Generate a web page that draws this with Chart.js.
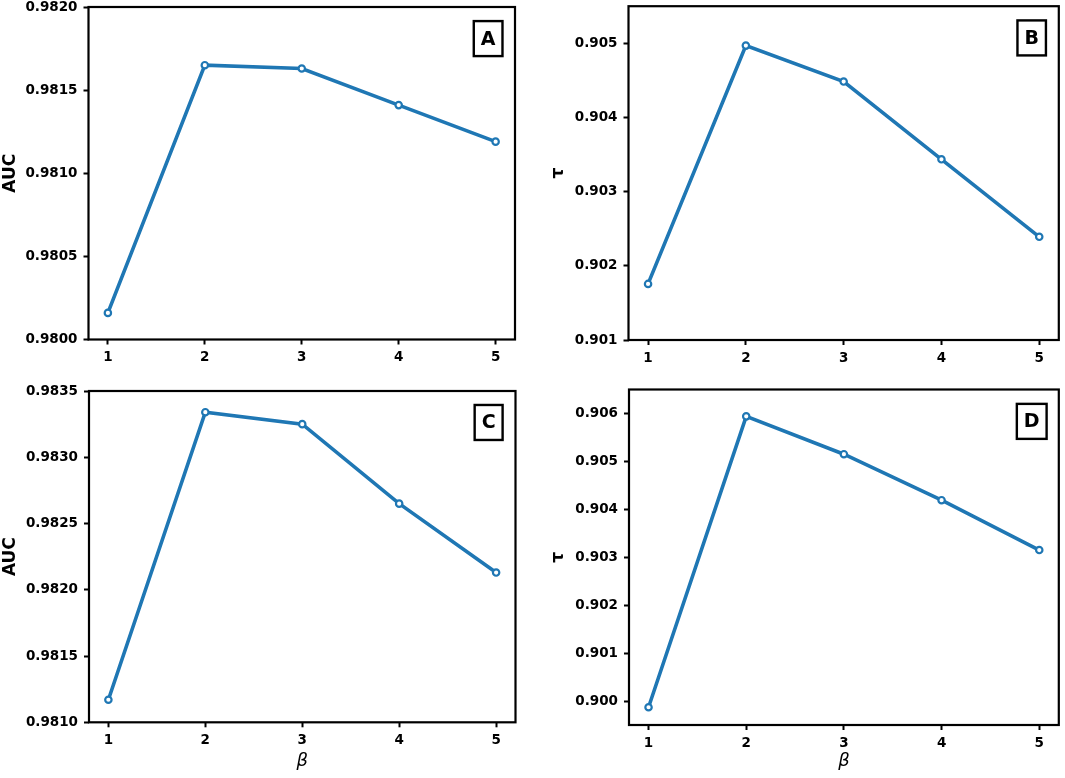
<!DOCTYPE html>
<html>
<head>
<meta charset="utf-8">
<script src="https://cdn.jsdelivr.net/npm/chart.js@4.4.1/dist/chart.umd.min.js"></script>
<style>
  html, body { margin: 0; padding: 0; background: #fff; }
  #wrap { position: relative; width: 1065px; height: 778px; }
  canvas { position: absolute; }
</style>
</head>
<body>
<div id="wrap">
  <canvas id="chartA" width="530" height="380" style="left:0;top:0"></canvas>
  <canvas id="chartB" width="535" height="380" style="left:530px;top:0"></canvas>
  <canvas id="chartC" width="530" height="398" style="left:0;top:380px"></canvas>
  <canvas id="chartD" width="535" height="398" style="left:530px;top:380px"></canvas>
</div>
<script>
// beta values shared by all four panels
const betaValues = [1, 2, 3, 4, 5];

const aucA = [0.98016, 0.98165, 0.98163, 0.98141, 0.98119];
const tauB = [0.901756, 0.904969, 0.904484, 0.903436, 0.902391];
const aucC = [0.98117, 0.98334, 0.98325, 0.98265, 0.98213];
const tauD = [0.89987, 0.90594, 0.90515, 0.90419, 0.90315];

// tick labels
const ticksA = [0.9800, 0.9805, 0.9810, 0.9815, 0.9820];
const ticksB = [0.901, 0.902, 0.903, 0.904, 0.905];
const ticksC = [0.9810, 0.9815, 0.9820, 0.9825, 0.9830, 0.9835];
const ticksD = [0.900, 0.901, 0.902, 0.903, 0.904, 0.905, 0.906];

const FONT = 'DejaVu Sans';
const BLUE = '#1f77b4';

// full box round the plot area plus the little letter tag
const framePlugin = {
  id: 'frameAndTag',
  afterDraw(chart, args, opts) {
    const { ctx, chartArea: a } = chart;
    ctx.save();
    ctx.strokeStyle = '#000';
    ctx.lineWidth = 2.2;
    ctx.strokeRect(a.left, a.top, a.right - a.left, a.bottom - a.top);

    ctx.font = 'bold 19px ' + FONT;
    const tw = ctx.measureText(opts.tag).width;
    const bw = tw + 14, bh = 35;
    const cx = a.left + 0.937 * (a.right - a.left);
    const cy = a.top + 0.095 * (a.bottom - a.top);
    ctx.fillStyle = '#fff';
    ctx.fillRect(cx - bw / 2, cy - bh / 2, bw, bh);
    ctx.lineWidth = 2.4;
    ctx.strokeRect(cx - bw / 2, cy - bh / 2, bw, bh);
    ctx.fillStyle = '#000';
    ctx.textAlign = 'center';
    ctx.textBaseline = 'middle';
    ctx.fillText(opts.tag, cx, cy + 1);
    ctx.restore();
  }
};

function makePanel(id, values, yTicks, yMin, yMax, decimals, yTitle, tag, box, showBeta) {
  const points = betaValues.map((b, i) => ({ x: b, y: values[i] }));
  return new Chart(document.getElementById(id), {
    type: 'line',
    data: {
      datasets: [{
        data: points,
        borderColor: BLUE,
        borderWidth: 3.6,
        pointRadius: 3.2,
        pointBorderWidth: 2.2,
        pointBackgroundColor: '#fff',
        pointBorderColor: BLUE,
        tension: 0
      }]
    },
    options: {
      responsive: false,
      animation: false,
      devicePixelRatio: 1,
      layout: { padding: { top: box.top, right: box.right, left: 0, bottom: 0 } },
      plugins: {
        legend: { display: false },
        tooltip: { enabled: false },
        frameAndTag: { tag: tag }
      },
      scales: {
        x: {
          type: 'linear',
          min: 0.8,
          max: 5.2,
          afterBuildTicks: s => { s.ticks = betaValues.map(v => ({ value: v })); },
          afterFit: s => { s.height = box.xh; s.paddingLeft = 0; s.paddingRight = 0; },
          border: { display: false },
          grid: { drawOnChartArea: false, tickLength: 5, tickWidth: 2, tickColor: '#000' },
          ticks: {
            color: '#000',
            padding: 5,
            font: { family: FONT, size: 13.5, weight: 'bold' },
            callback: v => String(v)
          },
          title: {
            display: showBeta,
            text: 'β',
            color: '#000',
            padding: { top: 0, bottom: 6 },
            font: { family: FONT, size: 18, style: 'italic' }
          }
        },
        y: {
          min: yMin,
          max: yMax,
          afterBuildTicks: s => { s.ticks = yTicks.map(v => ({ value: v })); },
          afterFit: s => { s.width = box.yw; s.paddingTop = 0; s.paddingBottom = 0; },
          border: { display: false },
          grid: { drawOnChartArea: false, tickLength: 5, tickWidth: 2, tickColor: '#000' },
          ticks: {
            color: '#000',
            padding: 6,
            font: { family: FONT, size: 13.5, weight: 'bold' },
            callback: v => Number(v).toFixed(decimals)
          },
          title: {
            display: true,
            text: yTitle,
            color: '#000',
            padding: { top: box.tp, bottom: 0 },
            font: { family: FONT, size: 17, weight: 'bold' }
          }
        }
      }
    },
    plugins: [framePlugin]
  });
}

makePanel('chartA', aucA, ticksA, 0.9800, 0.9820, 4, 'AUC', 'A',
  { top: 7, right: 15, yw: 88.5, xh: 40.5, tp: 0 }, false);
makePanel('chartB', tauB, ticksB, 0.901, 0.9055, 3, 'τ', 'B',
  { top: 3, right: 3.3, yw: 98.5, xh: 40, tp: 18.5 }, false);
makePanel('chartC', aucC, ticksC, 0.9810, 0.9835, 4, 'AUC', 'C',
  { top: 11, right: 14.5, yw: 89, xh: 55.7, tp: 0 }, true);
makePanel('chartD', tauD, ticksD, 0.8995, 0.9065, 3, 'τ', 'D',
  { top: 9.5, right: 3.3, yw: 99, xh: 53, tp: 18.5 }, true);
</script>
</body>
</html>
